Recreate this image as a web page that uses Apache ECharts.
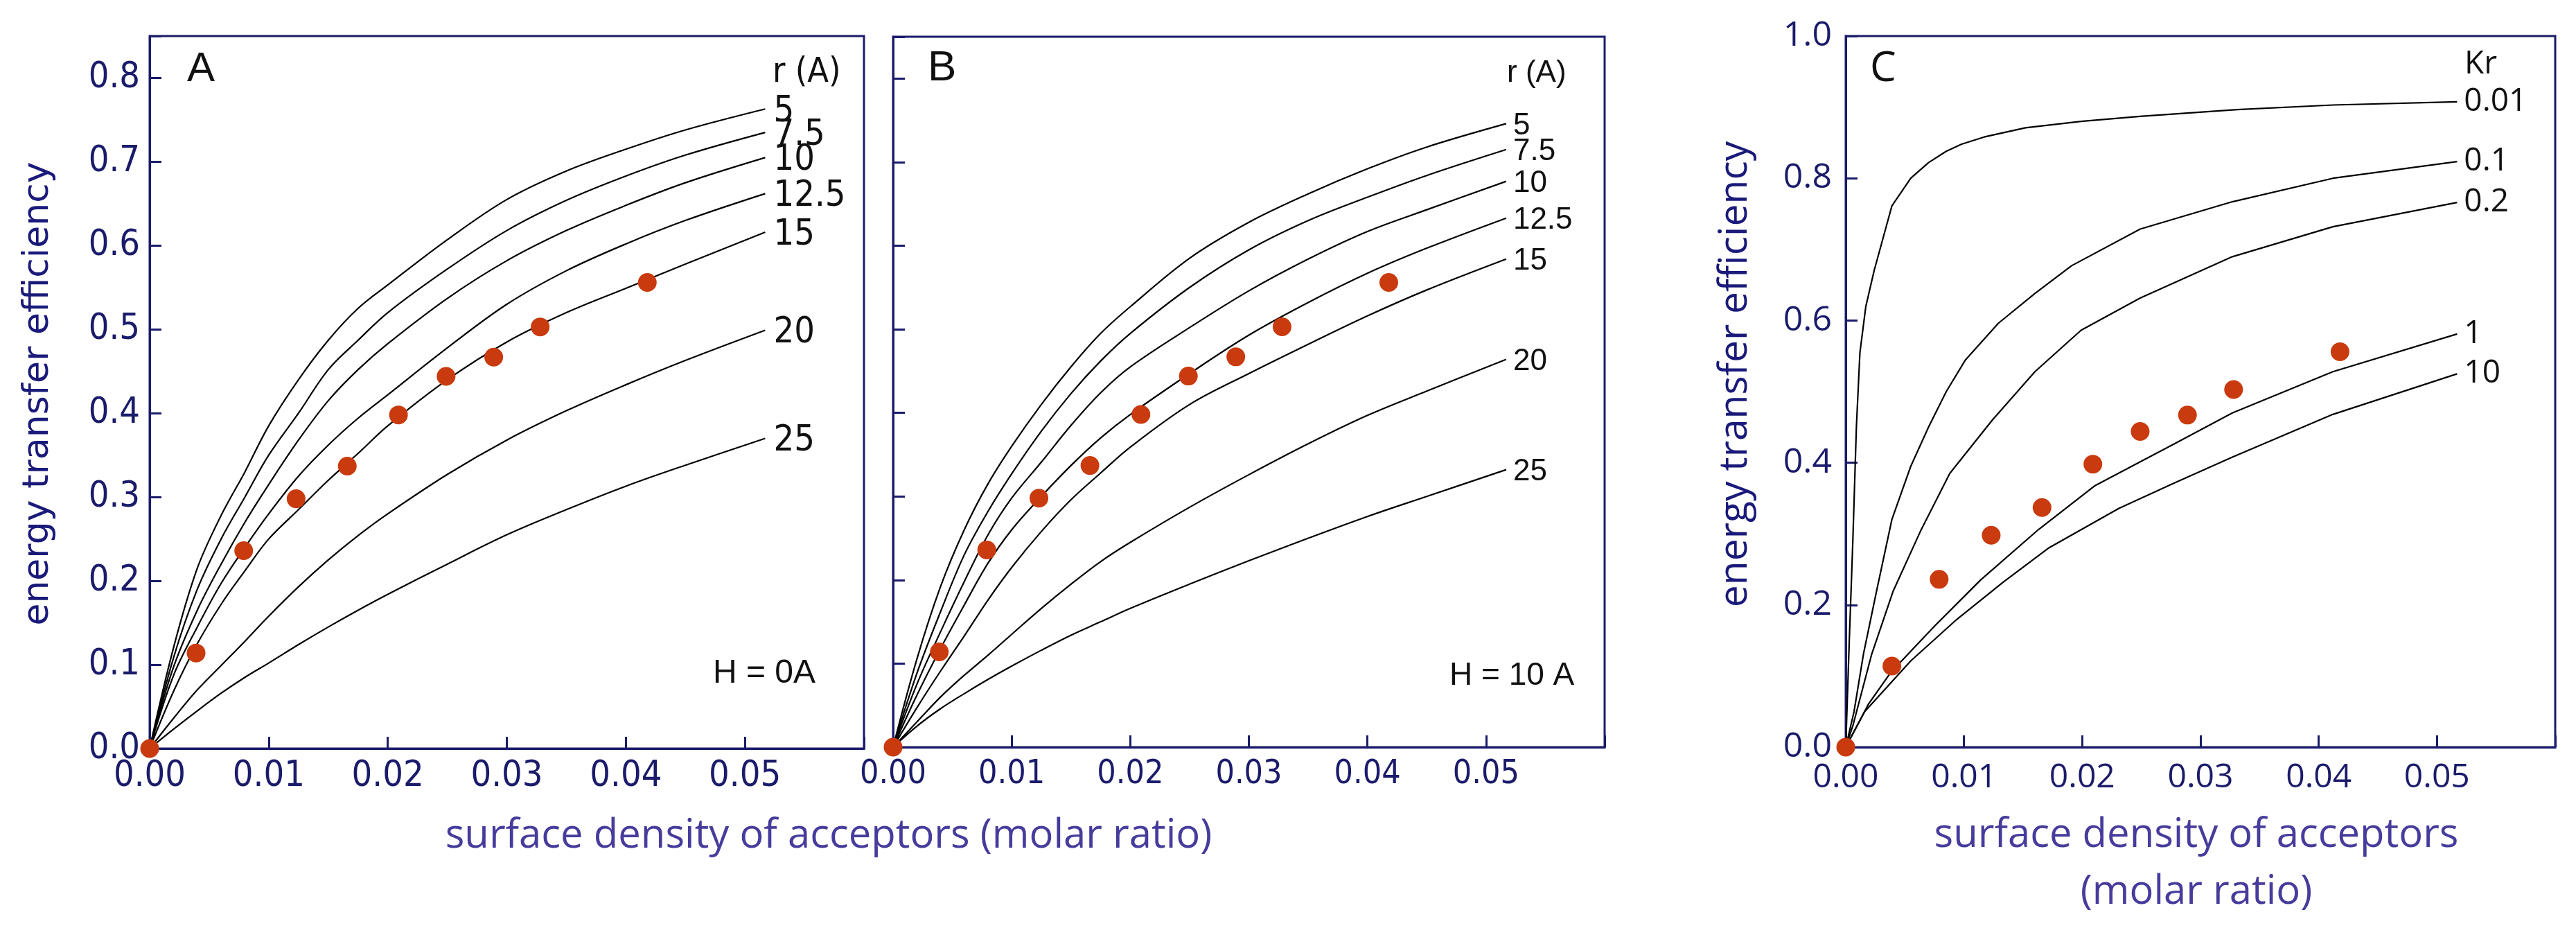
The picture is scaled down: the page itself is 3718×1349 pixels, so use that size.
<!DOCTYPE html>
<html><head><meta charset="utf-8">
<script src="https://cdn.jsdelivr.net/npm/echarts@6/dist/echarts.min.js"></script>
<style>html,body{margin:0;padding:0;background:#fff}#c{width:3718px;height:1349px}</style>
</head><body><div id="c"></div>
<script>
// ---------- data ----------
const xTicks = ['0.00','0.01','0.02','0.03','0.04','0.05'];
const rNames = ['5','7.5','10','12.5','15','20','25'];
const krNames = ['0.01','0.1','0.2','1','10'];

// shared x samples for panels A and B (molar ratio)
const xAB = [0, 0.002, 0.004, 0.006, 0.008, 0.010, 0.0125, 0.015, 0.0175, 0.020, 0.025, 0.030, 0.035, 0.040, 0.045, 0.0517];

// Panel A (H = 0 A)
const aR5   = [0, 0.120, 0.215, 0.278, 0.330, 0.385, 0.440, 0.487, 0.525, 0.553, 0.607, 0.655, 0.689, 0.715, 0.738, 0.763];
const aR75  = [0, 0.108, 0.190, 0.250, 0.300, 0.350, 0.400, 0.452, 0.487, 0.520, 0.572, 0.618, 0.654, 0.683, 0.708, 0.735];
const aR10  = [0, 0.097, 0.165, 0.220, 0.270, 0.315, 0.368, 0.415, 0.452, 0.483, 0.537, 0.582, 0.618, 0.648, 0.675, 0.705];
const aR125 = [0, 0.087, 0.145, 0.197, 0.240, 0.280, 0.325, 0.362, 0.394, 0.422, 0.478, 0.530, 0.570, 0.602, 0.630, 0.662];
const aR15  = [0, 0.068, 0.125, 0.172, 0.212, 0.250, 0.285, 0.320, 0.352, 0.385, 0.440, 0.485, 0.520, 0.549, 0.578, 0.616];
const aR20  = [0, 0.036, 0.070, 0.099, 0.128, 0.158, 0.193, 0.225, 0.254, 0.280, 0.327, 0.368, 0.403, 0.434, 0.463, 0.499];
const aR25  = [0, 0.023, 0.045, 0.066, 0.085, 0.102, 0.124, 0.145, 0.165, 0.184, 0.220, 0.255, 0.285, 0.313, 0.338, 0.370];

// Panel B (H = 10 A)
const bR5   = [0, 0.105, 0.192, 0.260, 0.315, 0.360, 0.410, 0.455, 0.495, 0.527, 0.585, 0.628, 0.662, 0.692, 0.718, 0.746];
const bR75  = [0, 0.088, 0.162, 0.230, 0.282, 0.327, 0.378, 0.423, 0.462, 0.495, 0.550, 0.595, 0.630, 0.658, 0.684, 0.715];
const bR10  = [0, 0.075, 0.138, 0.198, 0.254, 0.298, 0.341, 0.385, 0.424, 0.455, 0.502, 0.546, 0.584, 0.617, 0.643, 0.677];
const bR125 = [0, 0.062, 0.118, 0.170, 0.220, 0.260, 0.300, 0.337, 0.370, 0.398, 0.447, 0.493, 0.532, 0.567, 0.597, 0.633];
const bR15  = [0, 0.047, 0.091, 0.133, 0.176, 0.215, 0.258, 0.296, 0.328, 0.359, 0.410, 0.447, 0.482, 0.516, 0.547, 0.584];
const bR20  = [0, 0.030, 0.060, 0.086, 0.110, 0.135, 0.166, 0.195, 0.222, 0.245, 0.287, 0.326, 0.363, 0.397, 0.426, 0.464];
const bR25  = [0, 0.025, 0.046, 0.064, 0.081, 0.097, 0.116, 0.134, 0.150, 0.166, 0.195, 0.223, 0.250, 0.276, 0.300, 0.332];

// Panel C (Kr curves), [x, y] pairs
const cK001 = [[0,0],[0.0003,0.15],[0.0006,0.29],[0.0009,0.45],[0.0012,0.555],[0.0017,0.62],[0.0024,0.67],[0.0039,0.761],[0.0055,0.80],[0.007,0.822],[0.0085,0.838],[0.0098,0.848],[0.0117,0.858],[0.0152,0.871],[0.0199,0.88],[0.0249,0.887],[0.0331,0.8966],[0.0412,0.903],[0.0517,0.9076]];
const cK01  = [[0,0],[0.0007,0.05],[0.0015,0.131],[0.0026,0.219],[0.0039,0.32],[0.0055,0.395],[0.007,0.45],[0.0085,0.50],[0.0101,0.544],[0.0129,0.596],[0.016,0.638],[0.0191,0.677],[0.0249,0.7285],[0.0327,0.767],[0.0412,0.80],[0.0517,0.8235]];
const cK02  = [[0,0],[0.0006,0.03],[0.0022,0.131],[0.004,0.219],[0.0063,0.303],[0.0088,0.385],[0.0124,0.46],[0.016,0.528],[0.0199,0.5863],[0.0249,0.6316],[0.0327,0.6897],[0.0412,0.7318],[0.0517,0.766]];
const cK1   = [[0,0],[0.0019,0.06],[0.0038,0.105],[0.0075,0.17],[0.0114,0.235],[0.0163,0.306],[0.0211,0.368],[0.0278,0.4267],[0.0327,0.47],[0.0412,0.528],[0.0517,0.581]];
const cK10  = [[0,0],[0.0016,0.05],[0.0055,0.1214],[0.0094,0.1798],[0.0133,0.2318],[0.0172,0.2805],[0.0231,0.3357],[0.0278,0.3715],[0.0327,0.408],[0.0412,0.468],[0.0517,0.525]];

// measured energy transfer efficiency (same in all panels)
const dotX = [0, 0.0039, 0.0079, 0.0123, 0.0166, 0.0209, 0.0249, 0.0289, 0.0328, 0.0418];
const dotY = [0, 0.114, 0.236, 0.298, 0.337, 0.398, 0.444, 0.467, 0.503, 0.556];

// ---------- styles ----------
const NAVY = '#1b1b6b';
const DOT = '#c93a0e';
const NARROW = "'Liberation Sans Narrow','DejaVu Sans Condensed','Arial Narrow',sans-serif";
const ARIAL = "'Liberation Sans',Arial,sans-serif";
const OPEN = "'Open Sans','Noto Sans',sans-serif";

const zip = (xs, ys) => xs.map((x, i) => [x, ys[i]]);
const dots = zip(dotX, dotY);

function xAxisCfg(gi, font, size, margin) {
  return {
    type: 'value', gridIndex: gi, min: 0, max: 0.06, interval: 0.01,
    axisLine: { show: true, onZero: false, lineStyle: { color: NAVY, width: 3 } },
    axisTick: { show: true, inside: true, length: 17, lineStyle: { color: NAVY, width: 3 } },
    splitLine: { show: false },
    axisLabel: {
      margin: margin, color: NAVY, fontFamily: font, fontSize: size,
      formatter: v => { const i = Math.round(v * 100); return (Math.abs(v * 100 - i) < 1e-6 && i < xTicks.length) ? xTicks[i] : ''; }
    }
  };
}
function yAxisCfg(gi, max, interval, font, size, margin, showLabel) {
  return {
    type: 'value', gridIndex: gi, min: 0, max: max, interval: interval,
    axisLine: { show: true, onZero: false, lineStyle: { color: NAVY, width: 3 } },
    axisTick: { show: true, inside: true, length: 17, lineStyle: { color: NAVY, width: 3 } },
    splitLine: { show: false },
    axisLabel: {
      show: showLabel, margin: margin, color: NAVY, fontFamily: font, fontSize: size,
      formatter: v => { const k = v / interval; return Math.abs(k - Math.round(k)) < 1e-6 ? v.toFixed(1) : ''; }
    }
  };
}
function curve(name, data, gi, lab, smooth) {
  return {
    type: 'line', name: name, xAxisIndex: gi, yAxisIndex: gi, data: data,
    showSymbol: false, symbol: 'none', smooth: smooth, silent: true, z: 2,
    lineStyle: { color: '#000', width: 2.2 },
    endLabel: Object.assign({ show: true, formatter: () => name, color: '#111' }, lab)
  };
}
function dotSeries(gi) {
  return {
    type: 'scatter', xAxisIndex: gi, yAxisIndex: gi, data: dots, clip: false,
    symbol: 'circle', symbolSize: 27, itemStyle: { color: DOT, opacity: 1 }, z: 5, silent: true
  };
}

const labA = { fontFamily: NARROW, fontSize: 52, distance: 12, offset: [0, 4] };
const labB = { fontFamily: ARIAL, fontSize: 44, distance: 10, offset: [0, 3] };
const labC = { fontFamily: OPEN, fontSize: 46, distance: 10 };

const aCurves = [aR5, aR75, aR10, aR125, aR15, aR20, aR25];
const bCurves = [bR5, bR75, bR10, bR125, bR15, bR20, bR25];
const cCurves = [cK001, cK01, cK02, cK1, cK10];

const series = [];
aCurves.forEach((ys, i) => series.push(curve(rNames[i], zip(xAB, ys), 0, labA, 0.35)));
bCurves.forEach((ys, i) => series.push(curve(rNames[i], zip(xAB, ys), 1, labB, 0.35)));
cCurves.forEach((d, i) => series.push(curve(krNames[i], d, 2, labC, false)));
series.push(dotSeries(0), dotSeries(1), dotSeries(2));

function txt(text, x, y, font, size, color, extra) {
  return Object.assign({
    type: 'text', x: x, y: y, silent: true, z: 10,
    style: Object.assign({ text: text, fontFamily: font, fontSize: size, fill: color, align: 'left', verticalAlign: 'middle' }, extra && extra.style)
  }, extra && extra.el);
}

const option = {
  backgroundColor: '#fff',
  animation: false,
  grid: [
    { left: 216, top: 52, width: 1031, height: 1028, show: true, borderColor: NAVY, borderWidth: 3, backgroundColor: 'transparent' },
    { left: 1289, top: 53, width: 1027, height: 1025, show: true, borderColor: NAVY, borderWidth: 3, backgroundColor: 'transparent' },
    { left: 2664, top: 52, width: 1024, height: 1026, show: true, borderColor: NAVY, borderWidth: 3, backgroundColor: 'transparent' }
  ],
  xAxis: [xAxisCfg(0, NARROW, 52, 14), xAxisCfg(1, NARROW, 48, 16), xAxisCfg(2, OPEN, 48, 20)],
  yAxis: [yAxisCfg(0, 0.85, 0.1, NARROW, 52, 14, true), yAxisCfg(1, 0.85, 0.1, NARROW, 48, 16, false), yAxisCfg(2, 1.0, 0.2, OPEN, 50, 20, true)],
  series: series,
  graphic: [
    txt('A', 270, 100, ARIAL, 60, '#111'),
    txt('B', 1339, 99, ARIAL, 62, '#111'),
    txt('C', 2699, 100, OPEN, 60, '#111'),
    txt('r (A)', 1115, 105, NARROW, 50, '#111'),
    txt('r (A)', 2175, 106, ARIAL, 44, '#111'),
    txt('Kr', 3557, 93, OPEN, 46, '#111'),
    txt('H = 0A', 1029, 972, ARIAL, 48, '#111'),
    txt('H = 10 A', 2092, 975, ARIAL, 46, '#111'),
    txt('energy transfer efficiency', 55, 568, "'DejaVu Sans',Verdana,sans-serif", 52, '#1a1a7a', { style: { align: 'center' }, el: { rotation: Math.PI / 2 } }),
    txt('energy transfer efficiency', 2505, 540, OPEN, 57, '#1a1a7a', { style: { align: 'center' }, el: { rotation: Math.PI / 2 } }),
    txt('surface density of acceptors (molar ratio)', 1196, 1206, OPEN, 58, '#463c9c', { style: { align: 'center' } }),
    txt('surface density of acceptors\n(molar ratio)', 3170, 1246, OPEN, 58, '#463c9c', { style: { align: 'center', lineHeight: 82 } })
  ]
};

const chart = echarts.init(document.getElementById('c'), null, { renderer: 'canvas' });
chart.setOption(option);
</script>
</body></html>
